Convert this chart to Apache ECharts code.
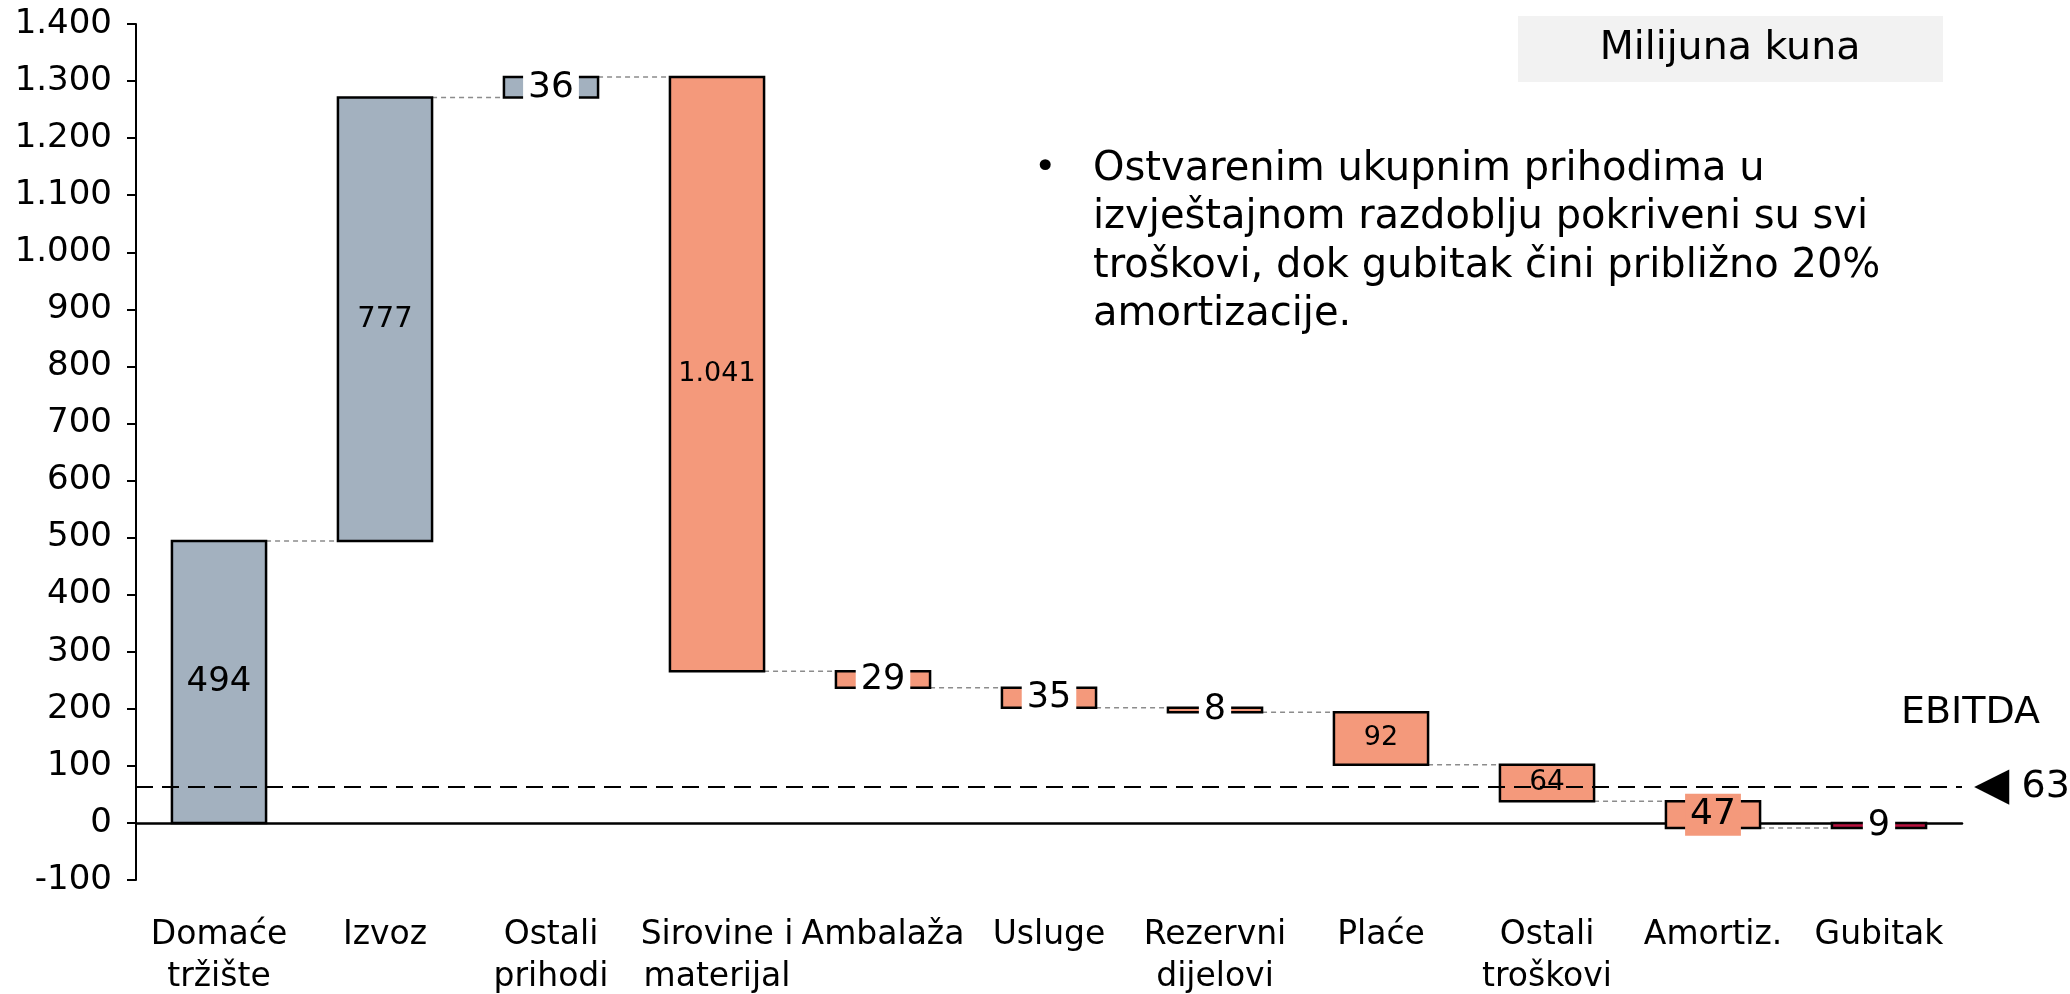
<!DOCTYPE html>
<html>
<head>
<meta charset="utf-8">
<script src="https://cdn.jsdelivr.net/npm/echarts@6/dist/echarts.min.js"></script>
<style>
  html, body { margin: 0; padding: 0; background: #fff; }
  #chart { width: 2070px; height: 994px; }
</style>
</head>
<body>
<div id="chart"></div>
<script>
// podaci (milijuna kuna)
const categories = ['Domaće\ntržište', 'Izvoz', 'Ostali\nprihodi', 'Sirovine i\nmaterijal', 'Ambalaža', 'Usluge',
  'Rezervni\ndijelovi', 'Plaće', 'Ostali\ntroškovi', 'Amortiz.', 'Gubitak']
const changes = [494, 777, 36, -1041, -29, -35, -8, -92, -64, -47, 9]
const kinds = ['prihod', 'prihod', 'prihod', 'trosak', 'trosak', 'trosak', 'trosak', 'trosak', 'trosak', 'trosak', 'gubitak']
const ebitda = 63
const yMin = -100
const yMax = 1400
const yStep = 100
const noteLines = [
  'Ostvarenim ukupnim prihodima u',
  'izvještajnom razdoblju pokriveni su svi',
  'troškovi, dok gubitak čini približno 20%',
  'amortizacije.',
]

const FONT = '"DejaVu Sans", Verdana, sans-serif'
const fillOf = { prihod: '#a3b1bf', trosak: '#f4997b', gubitak: '#b8123f' }
// izgled oznaka po stupcu
const labelLook = [
  { size: 34 }, { size: 29 }, { size: 36, bg: '#fff' }, { size: 27 }, { size: 35, bg: '#fff' },
  { size: 35, bg: '#fff' }, { size: 35, bg: '#fff' }, { size: 27 }, { size: 28 },
  { size: 36, bg: '#f4997b' }, { size: 35, bg: '#fff' },
]

const fmt = (n) => String(Math.abs(n)).replace(/\B(?=(\d{3})+(?!\d))/g, '.')

let run = 0
const steps = changes.map((d, i) => {
  const start = run
  run += d
  return [i, Math.min(start, run), Math.max(start, run), run]
})

function renderStep(params, api) {
  const i = api.value(0)
  const top = api.coord([i, api.value(2)])
  const bot = api.coord([i, api.value(1)])
  const w = api.size([1, 0])[0] * 0.567
  const x0 = top[0] - w / 2
  const kids = []
  if (i < changes.length - 1) {
    const e = api.coord([i, api.value(3)])
    const n = api.coord([i + 1, api.value(3)])
    kids.push({
      type: 'line',
      shape: { x1: x0 + w, y1: e[1], x2: n[0] - w / 2, y2: e[1] },
      style: { stroke: '#8c8c8c', lineWidth: 1.5, lineDash: [5, 4] },
    })
  }
  kids.push({
    type: 'rect',
    shape: { x: x0, y: top[1], width: w, height: Math.max(bot[1] - top[1], 1) },
    style: { fill: fillOf[kinds[i]], stroke: '#000', lineWidth: 2.5 },
  })
  const look = labelLook[i]
  kids.push({
    type: 'text',
    x: top[0],
    y: (top[1] + bot[1]) / 2,
    style: {
      text: fmt(changes[i]),
      fill: '#000',
      font: look.size + 'px ' + FONT,
      align: 'center',
      verticalAlign: 'middle',
      backgroundColor: look.bg || 'transparent',
      padding: look.bg ? [3, 5] : 0,
    },
  })
  return { type: 'group', children: kids }
}

const chart = echarts.init(document.getElementById('chart'), null, { renderer: 'canvas' })

chart.setOption({
  animation: false,
  backgroundColor: '#fff',
  textStyle: { fontFamily: FONT },
  grid: { left: 136, right: 108, top: 24, bottom: 114, containLabel: false, outerBoundsMode: 'none' },
  xAxis: {
    type: 'category',
    data: categories,
    axisLine: { show: true, onZero: true, lineStyle: { color: '#000', width: 2.5 } },
    axisTick: { show: false },
    axisLabel: { interval: 0, margin: 34, color: '#000', fontSize: 33, lineHeight: 42, fontFamily: FONT },
    splitLine: { show: false },
  },
  yAxis: {
    type: 'value',
    min: yMin,
    max: yMax,
    interval: yStep,
    axisLine: { show: true, lineStyle: { color: '#000', width: 2 } },
    axisTick: { show: true, length: 9, lineStyle: { color: '#000', width: 2 } },
    axisLabel: {
      margin: 24, color: '#000', fontSize: 34, fontFamily: FONT,
      formatter: (v) => (v < 0 ? '-' : '') + fmt(v),
    },
    splitLine: { show: false },
  },
  series: [
    {
      type: 'custom',
      z: 2,
      renderItem: renderStep,
      encode: { x: 0, y: [1, 2] },
      data: steps,
      silent: true,
    },
    {
      type: 'line',
      z: 10,
      data: [],
      silent: true,
      markLine: {
        silent: true,
        symbol: ['none', 'none'],
        lineStyle: { color: '#000', width: 2, type: [17, 9] },
        label: {
          show: true,
          position: 'end',
          distance: 12,
          formatter: '{t|◀} 63',
          color: '#000',
          fontSize: 38,
          fontFamily: FONT,
          rich: { t: { fontSize: 46, fontFamily: FONT, color: '#000' } },
        },
        data: [{ yAxis: ebitda }],
      },
    },
  ],
  graphic: [
    { type: 'rect', left: 1518, top: 16, shape: { width: 425, height: 66 }, style: { fill: '#f2f2f2' } },
    {
      type: 'text', x: 1730, y: 49,
      style: { text: 'Milijuna kuna', font: '39.5px ' + FONT, fill: '#000', align: 'center', verticalAlign: 'middle' },
    },
    {
      type: 'text', x: 1034, y: 169,
      style: { text: '•', font: '38px ' + FONT, fill: '#000', align: 'left', verticalAlign: 'middle' },
    },
    {
      type: 'text', x: 1093, y: 145,
      style: { text: noteLines.join('\n'), font: '40px ' + FONT, lineHeight: 48.5, fill: '#000', align: 'left', verticalAlign: 'top' },
    },
    {
      type: 'text', x: 1901, y: 713,
      style: { text: 'EBITDA', font: '38px ' + FONT, fill: '#000', align: 'left', verticalAlign: 'middle' },
    },
  ],
})
</script>
</body>
</html>
